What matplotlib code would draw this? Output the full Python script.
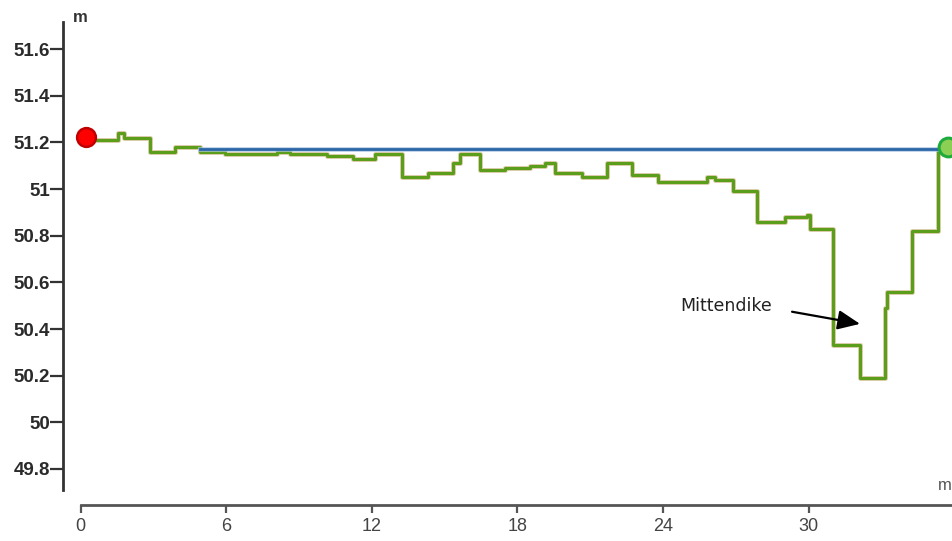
import matplotlib
matplotlib.use('Agg')
import matplotlib.pyplot as plt

plt.rcParams['font.family'] = ['Liberation Sans', 'DejaVu Sans']

# Profil: Abstand (m) und Höhe (m), Stufenverlauf
dist = [0.23, 1.55, 1.79, 2.86, 3.89, 4.92, 5.95, 8.10, 8.63, 10.16, 11.23, 12.13,
        13.25, 14.32, 15.35, 15.64, 16.46, 17.49, 18.52, 19.14, 19.55, 20.66, 21.69,
        22.72, 23.79, 25.81, 26.14, 26.88, 27.87, 29.03, 29.93, 30.06, 31.00, 32.11,
        33.15, 33.23, 34.26, 35.35, 35.74]
height = [51.21, 51.24, 51.22, 51.16, 51.18, 51.16, 51.15, 51.16, 51.15, 51.14, 51.13, 51.15,
          51.05, 51.07, 51.11, 51.15, 51.08, 51.09, 51.10, 51.11, 51.07, 51.05, 51.11,
          51.06, 51.03, 51.05, 51.04, 50.99, 50.86, 50.88, 50.89, 50.83, 50.33, 50.19,
          50.49, 50.56, 50.82, 51.17, 51.17]

# Wasserspiegel (blaue Linie)
level_x = [4.92, 35.74]
level_y = [51.17, 51.17]

start_pt = (0.23, 51.222)
end_pt = (35.74, 51.178)

x_ticks = [0, 6, 12, 18, 24, 30]
y_ticks = [49.8, 50, 50.2, 50.4, 50.6, 50.8, 51, 51.2, 51.4, 51.6]

label_text = 'Mittendike'
label_pos = (24.7, 50.50)
arrow_tail = (29.32, 50.474)
arrow_tip = (32.12, 50.422)

fig = plt.figure(figsize=(9.53, 5.41), dpi=100)
ax = fig.add_axes([0.0845, 0.0943, 0.9134, 0.8651])

ax.plot(dist, height, drawstyle='steps-post', color='#c9ad78', lw=3.6, alpha=0.6,
        solid_capstyle='butt', zorder=2)
ax.plot(dist, height, drawstyle='steps-post', color='#5a9e1c', lw=2.2, zorder=3)
ax.plot(level_x, level_y, color='#a9c4e0', lw=3.6, alpha=0.7, zorder=4)
ax.plot(level_x, level_y, color='#2b66a6', lw=2.0, zorder=5)

ax.plot(*start_pt, 'o', ms=13.5, mfc='#ff0000', mec='#c00000', mew=1.8, zorder=6, clip_on=False)
ax.plot(*end_pt, 'o', ms=13.5, mfc='#8ccf55', mec='#1faa3c', mew=2.2, zorder=6, clip_on=False)

ax.text(label_pos[0], label_pos[1], label_text, fontsize=12.5, color='#222222',
        family=['DejaVu Sans'], va='center', ha='left')
ax.annotate('', xy=arrow_tip, xytext=arrow_tail,
            arrowprops=dict(arrowstyle='-|>,head_length=0.8,head_width=0.35', color='black',
                            lw=1.6, mutation_scale=17, shrinkA=0, shrinkB=0))

ax.set_xlim(0, 35.87)
ax.set_ylim(49.71, 51.716)

for s in ['top', 'right']:
    ax.spines[s].set_visible(False)
ax.spines['left'].set_position(('outward', 12.5))
ax.spines['bottom'].set_position(('outward', 11))
ax.spines['left'].set_color('#333333')
ax.spines['left'].set_linewidth(2.0)
ax.spines['bottom'].set_color('#555555')
ax.spines['bottom'].set_linewidth(2.0)

ax.set_xticks(x_ticks)
ax.set_xticklabels([str(t) for t in x_ticks])
ax.set_yticks(y_ticks)
ax.set_yticklabels(['{:g}'.format(t) for t in y_ticks])
ax.tick_params(axis='y', length=9.5, width=1.6, color='#333333', labelsize=13.5,
               labelcolor='#2a2a2a', pad=0)
ax.tick_params(axis='x', length=5.5, width=1.6, color='#555555', labelsize=13,
               labelcolor='#444444', pad=4)
for lbl in ax.get_yticklabels():
    lbl.set_fontweight('semibold')

fig.text(80 / 953, 1 - 17 / 541, 'm', fontsize=12, color='#333333', ha='center', va='center',
         weight='bold')
fig.text(945 / 953, 1 - 485 / 541, 'm', fontsize=12, color='#555555', ha='center', va='center')

fig.savefig('out.png', dpi=100)
